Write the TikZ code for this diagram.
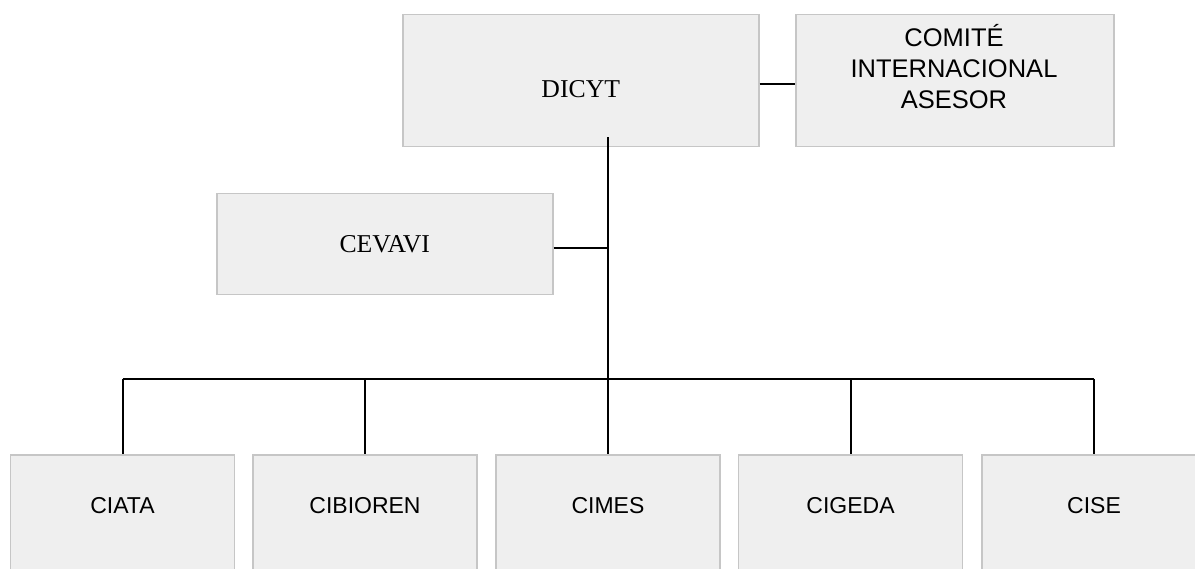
\documentclass[tikz,border=0pt]{standalone}
\usepackage{fontspec}
\setmainfont{Liberation Serif}
\newfontfamily\arialf{Liberation Sans}
\usetikzlibrary{calc}
\definecolor{boxfill}{HTML}{EFEFEF}
\definecolor{boxline}{HTML}{C6C6C6}
\begin{document}
\begin{tikzpicture}[x=1pt,y=-1pt,
  box/.style={rectangle, draw=boxline, fill=boxfill, line width=1.5pt, inner sep=0pt},
  wire/.style={draw=black, line width=2pt},
  serifbig/.style={font=\fontsize{25.7}{30}\selectfont},
  sanstop/.style={font=\arialf\fontsize{25.5}{31}\selectfont},
  sansbot/.style={font=\arialf\fontsize{23}{28}\selectfont}]
\clip (0,0) rectangle (1195,569);
\fill[white] (0,0) rectangle (1195,569);
% top row
\node[box, serifbig, anchor=north west, minimum width=356, text height=83pt, text depth=49pt] (dicyt) at (402,14) {DICYT};
\node[box, anchor=north west, minimum width=318, minimum height=132] (comite) at (795,14) {};
\node[sanstop, align=center, inner sep=0pt] (comitetxt) at (954,67) {COMITÉ\\INTERNACIONAL\\ASESOR};
% middle
\node[box, serifbig, anchor=north west, minimum width=336, text height=59pt, text depth=42pt] (cevavi) at (216,193) {CEVAVI};
% bottom row
\node[box, sansbot, anchor=north, minimum width=224, text height=59pt, text depth=120pt] (ciata) at (122.5,454) {CIATA};
\node[box, sansbot, anchor=north, minimum width=224, text height=59pt, text depth=120pt] (cibioren) at (365,454) {CIBIOREN};
\node[box, sansbot, anchor=north, minimum width=224, text height=59pt, text depth=120pt] (cimes) at (608,454) {CIMES};
\node[box, sansbot, anchor=north, minimum width=224, text height=59pt, text depth=120pt] (cigeda) at (850.5,454) {CIGEDA};
\node[box, sansbot, anchor=north, minimum width=224, text height=59pt, text depth=120pt] (cise) at (1094,454) {CISE};
% connectors
\draw[wire] ($(dicyt.east)+(0,3)$) -- ($(dicyt.east -| comite.west)+(0,3)$);
\draw[wire] ($(dicyt.south -| cimes.north)+(0,-10)$) -- (cimes.north);
\draw[wire] ($(cevavi.east)+(0,4)$) -- ($(cevavi.east -| cimes.north)+(0,4)$);
\coordinate (busl) at (ciata.north |- 0,379);
\coordinate (busr) at (cise.north |- 0,379);
\draw[wire] (busl) -- (busr);
\foreach \n in {ciata,cibioren,cigeda,cise}
  \draw[wire] (\n.north |- busl) -- (\n.north);
\end{tikzpicture}
\end{document}
